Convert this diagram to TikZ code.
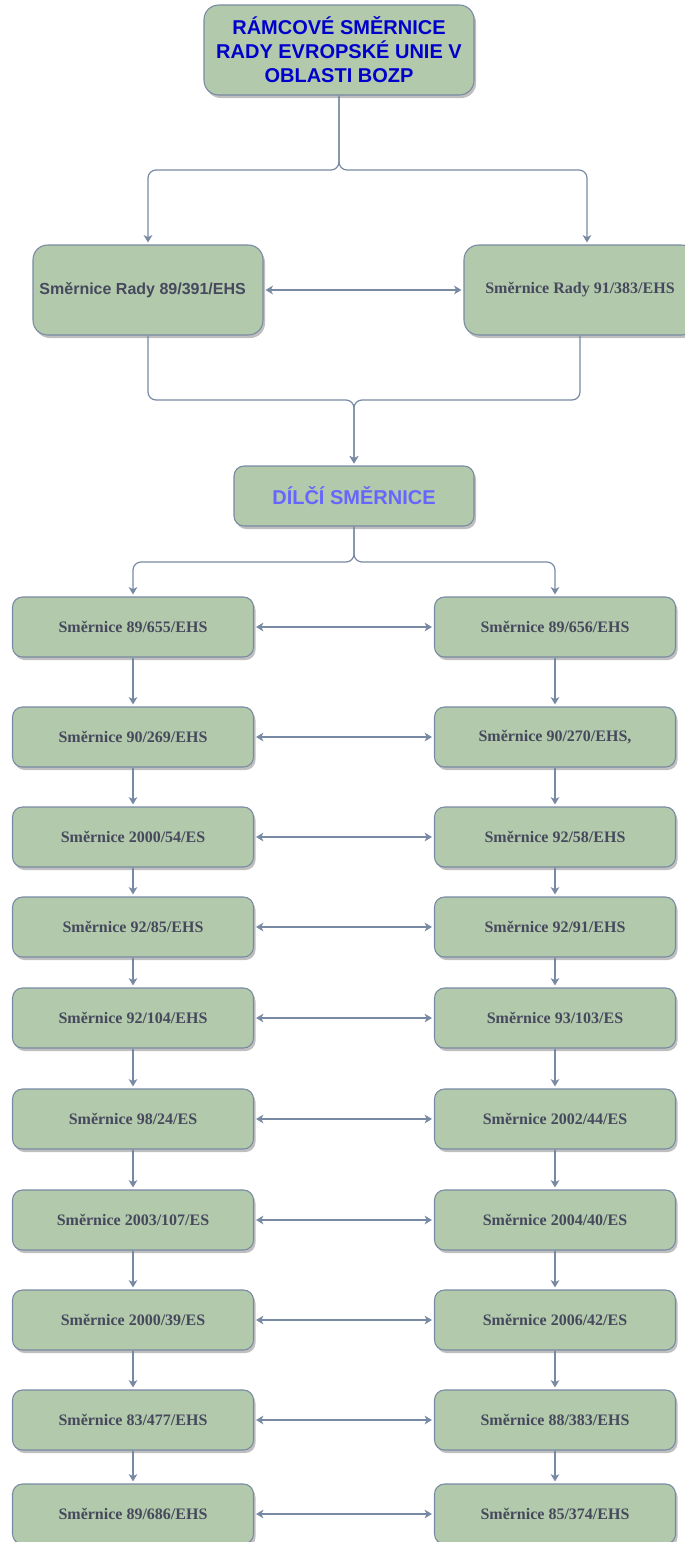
\documentclass[tikz,border=0pt]{standalone}
\usepackage{fontspec}
\setmainfont{Liberation Serif}
\setsansfont{Liberation Sans}
\usetikzlibrary{arrows.meta, calc, shadows}
\definecolor{boxFill}{HTML}{B2C9AB}
\definecolor{boxLine}{HTML}{788AA3}
\definecolor{boxText}{HTML}{46495D}
\definecolor{headBlue}{HTML}{0000CC}
\definecolor{headLight}{HTML}{6666FF}

\begin{document}
\begin{tikzpicture}[
    x=0.75pt, y=-0.75pt,
    >={Stealth[length=5.5pt, width=6.5pt, inset=1.5pt]},
    box/.style={rectangle, rounded corners=7.5pt, draw=boxLine, line width=0.8pt, fill=boxFill,
      minimum width=180.75pt, minimum height=45pt, text=boxText, align=center,
      font=\bfseries\fontsize{12}{14}\selectfont,
      drop shadow={shadow xshift=1.5pt, shadow yshift=-2.25pt, opacity=0.25, fill=black}},
    bigbox/.style={box, rounded corners=11pt, minimum width=172.5pt, minimum height=67.5pt},
    conn/.style={->, boxLine, line width=0.9pt, rounded corners=6pt, shorten >=1.5pt},
    dconn/.style={conn, <->, shorten <=1.5pt}
  ]
  \useasboundingbox (0,0) rectangle (685,1542);

  % framework directives
  \node[bigbox, minimum width=202.5pt, text=headBlue,
    font=\sffamily\bfseries\fontsize{15}{18}\selectfont] (ramec) at (339,50)
    {RÁMCOVÉ SMĚRNICE\\RADY EVROPSKÉ UNIE V\\OBLASTI BOZP};
  \node[bigbox, font=\sffamily\bfseries\fontsize{12}{14}\selectfont] (r391) at (148,290)
    {\hspace*{-8pt}Směrnice Rady 89/391/EHS};
  \node[bigbox, minimum width=174pt] (r383) at (580,290) {Směrnice Rady 91/383/EHS};
  \node[box, minimum width=180pt, text=headLight,
    font=\sffamily\bfseries\fontsize{15}{18}\selectfont] (dilci) at (354,496) {DÍLČÍ SMĚRNICE};

  \coordinate (s1) at (339,170);
  \coordinate (s2) at (354,400);
  \coordinate (s3) at (354,562);

  \draw[conn] (ramec) -- (s1) -| (r391);
  \draw[conn] (ramec) -- (s1) -| ($(r383.north)+(7,0)$);
  \draw[dconn] (r391) -- (r383);
  \draw[conn] (r391) |- (s2) -- (dilci);
  \draw[conn] (r383) |- (s2) -- (dilci);

  % individual directives
  \foreach \i/\y/\lt/\rt in {
      1/627/{89/655/EHS}/{89/656/EHS},
      2/737/{90/269/EHS}/{90/270/EHS,},
      3/837/{2000/54/ES}/{92/58/EHS},
      4/927/{92/85/EHS}/{92/91/EHS},
      5/1018/{92/104/EHS}/{93/103/ES},
      6/1119/{98/24/ES}/{2002/44/ES},
      7/1220/{2003/107/ES}/{2004/40/ES},
      8/1320/{2000/39/ES}/{2006/42/ES},
      9/1420/{83/477/EHS}/{88/383/EHS},
      10/1514/{89/686/EHS}/{85/374/EHS}} {
    \node[box] (l\i) at (133,\y) {Směrnice \lt};
    \node[box] (r\i) at (555,\y) {Směrnice \rt};
    \draw[dconn] (l\i) -- (r\i);
  }

  \draw[conn] (dilci) -- (s3) -| (l1);
  \draw[conn] (dilci) -- (s3) -| (r1);

  \foreach \i [evaluate=\i as \j using int(\i+1)] in {1,...,9} {
    \draw[conn] (l\i) -- (l\j);
    \draw[conn] (r\i) -- (r\j);
  }
\end{tikzpicture}
\end{document}
